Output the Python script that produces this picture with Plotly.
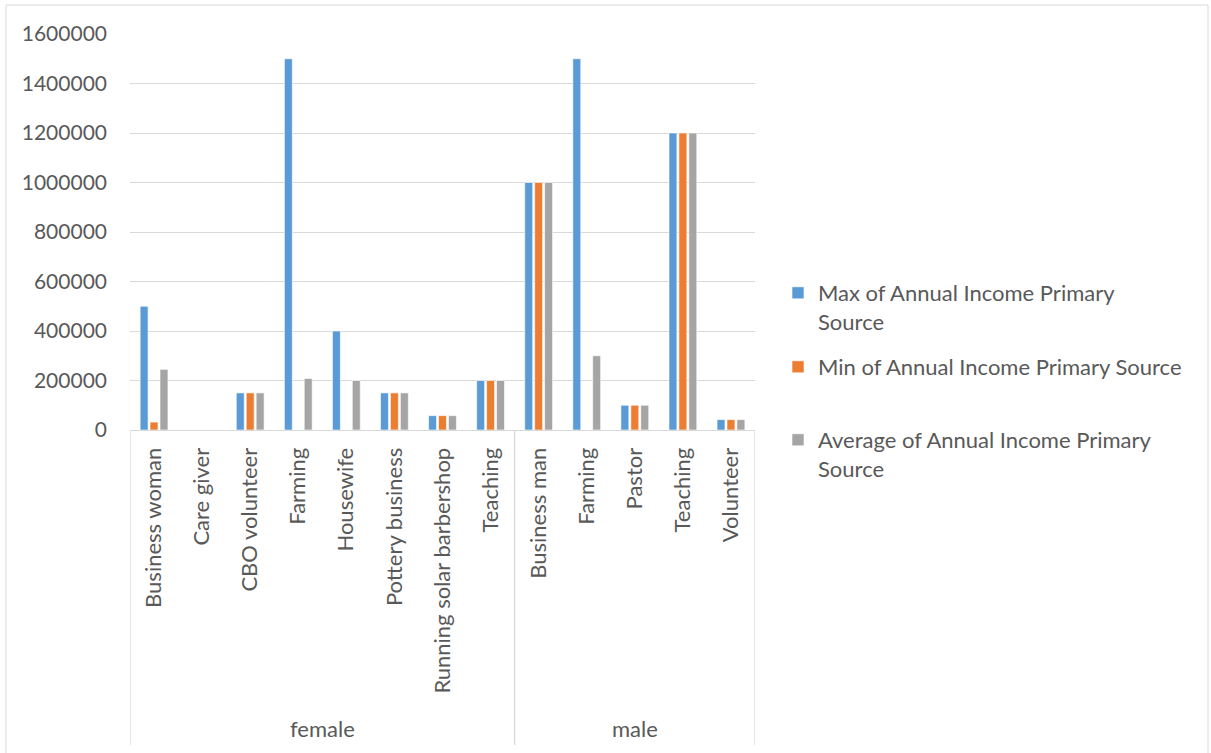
import plotly.graph_objects as go

# Occupations grouped by gender
genders = ["female"] * 8 + ["male"] * 5
occupations = [
    "Business woman", "Care giver", "CBO volunteer", "Farming", "Housewife",
    "Pottery business", "Running solar barbershop", "Teaching",
    "Business man", "Farming", "Pastor", "Teaching", "Volunteer",
]

max_income = [500000, 0, 150000, 1500000, 400000, 150000, 58000, 200000,
              1000000, 1500000, 100000, 1200000, 42000]
min_income = [32000, 0, 150000, 0, 0, 150000, 58000, 200000,
              1000000, 0, 100000, 1200000, 42000]
avg_income = [245000, 0, 150000, 208000, 200000, 150000, 58000, 200000,
              1000000, 300000, 100000, 1200000, 42000]

series_names = [
    "Max of Annual Income Primary<br>Source",
    "Min of Annual Income Primary Source",
    "Average of Annual Income Primary<br>Source",
]
series_colors = ["#5B9BD5", "#ED7D31", "#A5A5A5"]
y_ticks = [0, 200000, 400000, 600000, 800000, 1000000, 1200000, 1400000, 1600000]

W, H = 1211, 753
L, R, T, B = 130, 755, 34, 430
FONT = "Lato"
TXT = "#595959"
GRID = "#D9D9D9"

# unique category keys so repeated occupation names stay in their own gender block
keys = [f"{g}|{o}" for g, o in zip(genders, occupations)]

fig = go.Figure()
for i, (name, vals, col) in enumerate(zip(series_names, [max_income, min_income, avg_income], series_colors)):
    fig.add_trace(go.Bar(
        x=keys, y=vals, name=name,
        marker=dict(color=col, line=dict(color="white", width=0.6)),
        legend="legend" if i == 0 else f"legend{i+1}",
    ))

def px_x(p):
    return (p - L) / (R - L)

def px_y(p):
    return (B - p) / (B - T)

legend_common = dict(
    font=dict(family=FONT, size=22, color=TXT), bgcolor="rgba(0,0,0,0)",
    xanchor="left", yanchor="top", valign="top", itemwidth=30,
)
fig.update_layout(
    width=W, height=H,
    margin=dict(l=L, r=W - R, t=T, b=H - B, autoexpand=False),
    paper_bgcolor="white", plot_bgcolor="white",
    barmode="group", bargap=0.38, bargroupgap=0.2,
    font=dict(family=FONT, color=TXT, size=21),
    legend=dict(x=px_x(778), y=px_y(272), **legend_common),
    legend2=dict(x=px_x(778), y=px_y(346), **legend_common),
    legend3=dict(x=px_x(778), y=px_y(419), **legend_common),
    yaxis=dict(
        range=[0, 1600000], tickvals=y_ticks, tickformat="d",
        gridcolor=GRID, gridwidth=1, zeroline=False, showline=False,
        ticks="", tickfont=dict(family=FONT, size=21, color=TXT),
        ticklabelstandoff=22,
    ),
    xaxis=dict(
        type="category", tickvals=keys, ticktext=occupations, tickangle=-90,
        range=[-0.5, len(keys) - 0.5],
        showline=True, linecolor=GRID, linewidth=1,
        tickfont=dict(family=FONT, size=22, color=TXT),
        ticks="", ticklabelstandoff=8,
    ),
    showlegend=True,
)

# gender block dividers and labels below the category axis
n_female = genders.count("female")
for xpos in [-0.5, n_female - 0.5, len(keys) - 0.5]:
    fig.add_shape(type="line", xref="x", yref="paper",
                  x0=xpos, x1=xpos, y0=px_y(B), y1=px_y(745),
                  line=dict(color=GRID, width=1.3))
for g in ["female", "male"]:
    idx = [i for i, gg in enumerate(genders) if gg == g]
    fig.add_annotation(x=(idx[0] + idx[-1]) / 2, y=px_y(728), xref="x", yref="paper",
                       text=g, showarrow=False, yanchor="middle",
                       font=dict(family=FONT, size=22, color=TXT))

# outer chart border
fig.add_shape(type="rect", xref="paper", yref="paper",
              x0=px_x(6), x1=px_x(1208), y0=px_y(780), y1=px_y(5),
              line=dict(color=GRID, width=1), fillcolor="rgba(0,0,0,0)",
              layer="below")

fig.write_html("out.html")
